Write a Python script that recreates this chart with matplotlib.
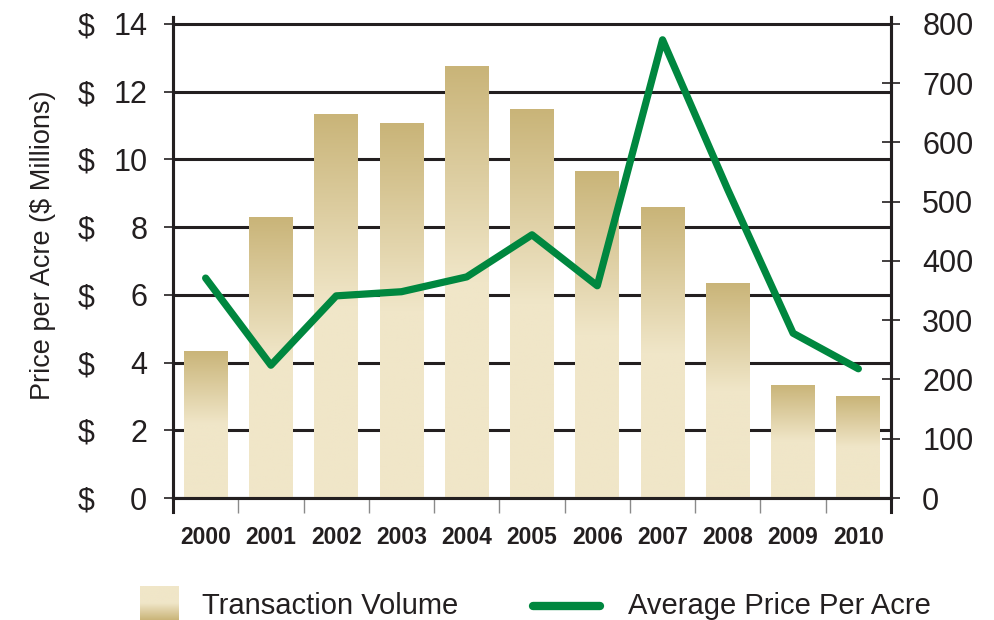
"""Transaction volume (bars) and average price per acre (line), 2000-2010."""
import matplotlib
matplotlib.use("Agg")
import matplotlib.pyplot as plt
import matplotlib.transforms as mtransforms
import numpy as np
from matplotlib.colors import LinearSegmentedColormap
from matplotlib.lines import Line2D

plt.rcParams["font.family"] = ["Liberation Sans", "DejaVu Sans"]

# ---------------------------------------------------------------------------
# Data
# ---------------------------------------------------------------------------
years = ["2000", "2001", "2002", "2003", "2004", "2005",
         "2006", "2007", "2008", "2009", "2010"]
volume_musd = [4.34, 8.30, 11.34, 11.07, 12.76, 11.49, 9.66, 8.59, 6.35, 3.34, 3.01]
price_per_acre = [371, 224, 341, 348, 373, 444, 358, 773, 520, 278, 218]

left_ticks = [0, 2, 4, 6, 8, 10, 12, 14]
right_ticks = [0, 100, 200, 300, 400, 500, 600, 700, 800]

GOLD_TOP = "#c9b478"
GOLD_BOTTOM = "#f0e6c8"
GREEN = "#00873f"
INK = "#231f20"

W, H = 995, 620
fig = plt.figure(figsize=(W / 100, H / 100), dpi=100)
ax = fig.add_axes([173 / W, 122 / H, 718 / W, (498 - 17) / H])
ax2 = ax.twinx()

x = np.arange(len(years))
ymax = 14.2

# gridlines behind bars
for t in left_ticks:
    ax.axhline(t, color=INK, lw=2.2, zorder=0)

# bars with a vertical gradient
cmap = LinearSegmentedColormap.from_list("gold", [GOLD_BOTTOM, GOLD_BOTTOM, GOLD_TOP])
bars = ax.bar(x, volume_musd, width=0.67, color="none", zorder=1)
grad = np.linspace(0, 1, 256).reshape(-1, 1)
for b in bars:
    x0, w, h = b.get_x(), b.get_width(), b.get_height()
    im = ax.imshow(grad, cmap=cmap, aspect="auto", origin="lower",
                   extent=[x0, x0 + w, 0, h], zorder=1)
    im.set_clip_path(b)
ax.set_xlim(-0.5, len(years) - 0.5)
ax.set_ylim(0, ymax)
ax2.set_ylim(0, 800 * ymax / 14)

# price line
ax2.plot(x, price_per_acre, color=GREEN, lw=5.2, solid_joinstyle="round",
         solid_capstyle="round", zorder=3)

# spines
for a in (ax, ax2):
    a.spines["top"].set_visible(False)
    for s in ("left", "right", "bottom"):
        a.spines[s].set_linewidth(2.2)
        a.spines[s].set_color(INK)

# left axis ticks: numbers as tick labels, "$" in its own column
ax.set_yticks(left_ticks)
ax.set_yticklabels([str(t) for t in left_ticks])
ax.tick_params(axis="y", direction="inout", length=13, width=1.2, colors=INK,
               labelsize=22, pad=12)
dollar_tf = mtransforms.blended_transform_factory(fig.transFigure, ax.transData)
for t in left_ticks:
    ax.text(78 / W, t, "$", transform=dollar_tf, fontsize=22, color=INK,
            ha="left", va="center_baseline", clip_on=False)
ax.set_ylabel("Price per Acre ($ Millions)", fontsize=19.5, color=INK)
ax.yaxis.set_label_coords(-0.163, 0.526)

# right axis ticks
ax2.set_yticks(right_ticks)
ax2.tick_params(axis="y", direction="inout", length=13, width=1.2, colors=INK,
                labelsize=22, pad=16)

# bottom axis: labels at centres, gray ticks between categories
ax.set_xticks(x)
ax.set_xticklabels(years, fontsize=16.5, fontweight="bold", color=INK)
ax.tick_params(axis="x", length=0, pad=20)
ax.set_xticks(np.arange(0.5, len(years) - 1, 1), minor=True)
ax.tick_params(axis="x", which="minor", direction="out", length=11,
               width=1.0, color="#8a8a8a")
for xa in (0, 1):
    ax.plot([xa, xa], [0, -0.03], transform=ax.transAxes, color=INK,
            lw=2.2, clip_on=False, zorder=5)

# legend (drawn by hand to match the swatch sizes)
sw = fig.add_axes([140 / W, 0, 38 / W, 34 / H])
sw.imshow(grad, cmap=cmap, aspect="auto", origin="upper", extent=[0, 1, 0, 1])
sw.set_axis_off()
fig.text(202 / W, 6 / H, "Transaction Volume", fontsize=21, color=INK,
         va="baseline", ha="left")
fig.add_artist(Line2D([533 / W, 600 / W], [14 / H, 14 / H], color=GREEN, lw=6,
                      solid_capstyle="round", transform=fig.transFigure))
fig.text(628 / W, 6 / H, "Average Price Per Acre", fontsize=21, color=INK,
         va="baseline", ha="left")

fig.savefig("out.png", dpi=100)
